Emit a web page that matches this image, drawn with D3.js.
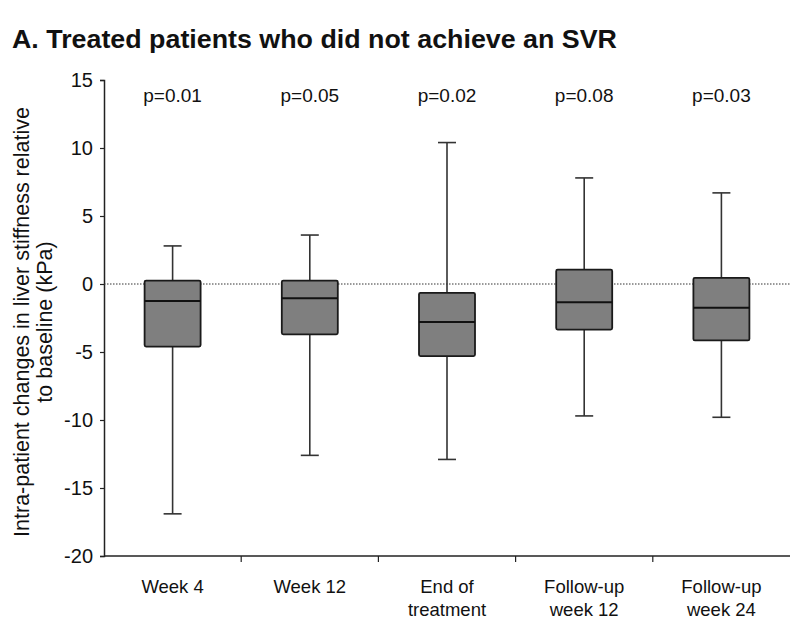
<!DOCTYPE html>
<html>
<head>
<meta charset="utf-8">
<script src="https://cdn.jsdelivr.net/npm/d3@7"></script>
<style>
  body { margin: 0; background: #fff; }
  svg { display: block; }
  text { font-family: "Liberation Sans", Arial, sans-serif; fill: #111; }
</style>
</head>
<body>
<svg id="chart" width="793" height="629"></svg>
<script>
const categories = [["Week 4"], ["Week 12"], ["End of", "treatment"], ["Follow-up", "week 12"], ["Follow-up", "week 24"]];
const whiskerLow  = [-16.9, -12.6, -12.9, -9.7, -9.8];
const q1          = [-4.6, -3.7, -5.3, -3.35, -4.15];
const median      = [-1.25, -1.05, -2.8, -1.35, -1.75];
const q3          = [0.25, 0.25, -0.65, 1.05, 0.45];
const whiskerHigh = [2.8, 3.6, 10.4, 7.8, 6.7];
const pValues = ["p=0.01", "p=0.05", "p=0.02", "p=0.08", "p=0.03"];
const yTicks = [15, 10, 5, 0, -5, -10, -15, -20];

const svg = d3.select("#chart");
const mLeft = 104, mRight = 790, mTop = 80, mBottom = 556;
const keys = categories.map((c, i) => i);

const x = d3.scaleBand().domain(keys).range([mLeft, mRight]).padding(0);
const y = d3.scaleLinear().domain([-20, 15]).range([mBottom, mTop]);

// title
svg.append("text").attr("x", 12).attr("y", 48)
  .attr("font-size", 25).attr("font-weight", "bold")
  .attr("textLength", 605).attr("lengthAdjust", "spacingAndGlyphs")
  .text("A. Treated patients who did not achieve an SVR");

// y axis
const yAxis = svg.append("g").attr("transform", `translate(${mLeft},0)`)
  .call(d3.axisLeft(y).tickValues(yTicks).tickSize(4).tickPadding(7).tickFormat(d => String(d)));
yAxis.select(".domain").attr("stroke", "#222").attr("stroke-width", 1.5);
yAxis.selectAll(".tick line").attr("stroke", "#222").attr("stroke-width", 1.2);
yAxis.selectAll(".tick text").attr("font-size", 20).attr("fill", "#111")
  .attr("font-family", "Liberation Sans, Arial, sans-serif");

// x axis
const xAxisG = svg.append("g").attr("transform", `translate(0,${mBottom})`);
xAxisG.append("line").attr("x1", mLeft).attr("x2", mRight).attr("y1", 0).attr("y2", 0)
  .attr("stroke", "#222").attr("stroke-width", 1.5);
keys.slice(1).forEach(k => {
  xAxisG.append("line").attr("x1", x(k)).attr("x2", x(k)).attr("y1", 0).attr("y2", 6)
    .attr("stroke", "#222").attr("stroke-width", 1.2);
});
keys.forEach(k => {
  const t = xAxisG.append("text").attr("x", x(k) + x.bandwidth() / 2).attr("y", 37)
    .attr("text-anchor", "middle").attr("font-size", 18.5);
  categories[k].forEach((line, j) => {
    t.append("tspan").attr("x", x(k) + x.bandwidth() / 2).attr("dy", j === 0 ? 0 : 23).text(line);
  });
});

// zero reference line
svg.append("line").attr("x1", mLeft).attr("x2", mRight).attr("y1", y(0)).attr("y2", y(0))
  .attr("stroke", "#333").attr("stroke-width", 1).attr("stroke-dasharray", "1.5,1.5");

// y axis label
const yl = svg.append("text").attr("transform", `translate(29,322) rotate(-90)`)
  .attr("text-anchor", "middle").attr("font-size", 21.5);
yl.append("tspan").attr("x", 0).attr("dy", 0).text("Intra-patient changes in liver stiffness relative");
yl.append("tspan").attr("x", 0).attr("dy", 23).text("to baseline (kPa)");

// boxes
const boxW = 56, capW = 18;
const g = svg.append("g");
keys.forEach(k => {
  const cx = x(k) + x.bandwidth() / 2;
  g.append("line").attr("x1", cx).attr("x2", cx).attr("y1", y(whiskerHigh[k])).attr("y2", y(q3[k]))
    .attr("stroke", "#333").attr("stroke-width", 1.6);
  g.append("line").attr("x1", cx).attr("x2", cx).attr("y1", y(q1[k])).attr("y2", y(whiskerLow[k]))
    .attr("stroke", "#333").attr("stroke-width", 1.6);
  [whiskerHigh[k], whiskerLow[k]].forEach(v => {
    g.append("line").attr("x1", cx - capW / 2).attr("x2", cx + capW / 2).attr("y1", y(v)).attr("y2", y(v))
      .attr("stroke", "#333").attr("stroke-width", 1.6);
  });
  g.append("rect").attr("x", cx - boxW / 2).attr("width", boxW)
    .attr("y", y(q3[k])).attr("height", y(q1[k]) - y(q3[k]))
    .attr("rx", 1.5)
    .attr("fill", "#7f7f7f").attr("stroke", "#1a1a1a").attr("stroke-width", 1.8);
  g.append("line").attr("x1", cx - boxW / 2).attr("x2", cx + boxW / 2).attr("y1", y(median[k])).attr("y2", y(median[k]))
    .attr("stroke", "#111").attr("stroke-width", 2);
  svg.append("text").attr("x", cx).attr("y", 102).attr("text-anchor", "middle")
    .attr("font-size", 19).text(pValues[k]);
});
</script>
</body>
</html>
